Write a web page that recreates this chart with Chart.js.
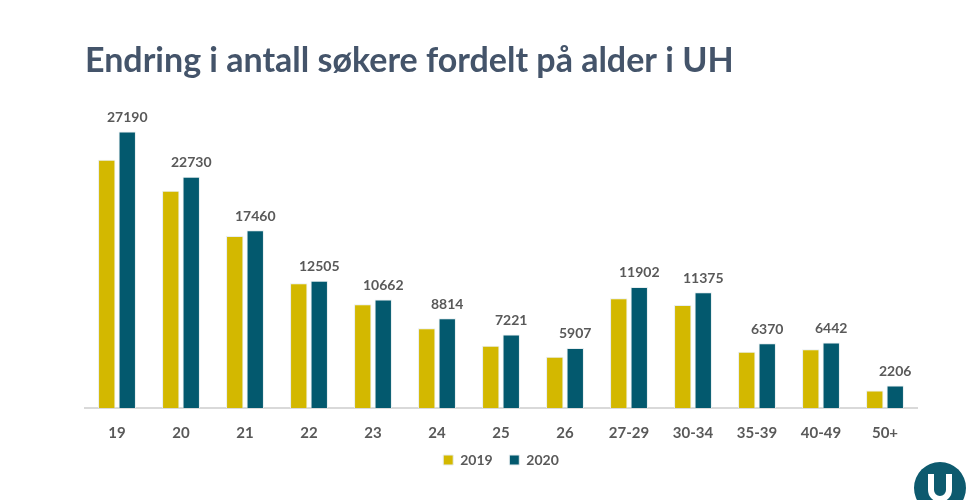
<!DOCTYPE html>
<html>
<head>
<meta charset="utf-8">
<script src="https://cdn.jsdelivr.net/npm/chart.js@4"></script>
<style>
  html, body { margin: 0; padding: 0; background: #fff; }
  #wrap { width: 980px; height: 500px; position: relative; }
</style>
</head>
<body>
<div id="wrap"><canvas id="chart"></canvas></div>
<script>
const ageGroups = ['19', '20', '21', '22', '23', '24', '25', '26', '27-29', '30-34', '35-39', '40-49', '50+'];
const applicants2019 = [24390, 21360, 16900, 12260, 10210, 7840, 6130, 5040, 10780, 10115, 5540, 5765, 1710];
const applicants2020 = [27190, 22730, 17460, 12505, 10662, 8814, 7221, 5907, 11902, 11375, 6370, 6442, 2206];
const seriesNames = ['2019', '2020'];

const textGray = '#595959';
const fontFamily = 'Lato, "Open Sans", sans-serif';

// value labels over the 2020 bars only
const valueLabels = {
    id: 'valueLabels',
    afterDatasetsDraw(chart) {
        const ctx = chart.ctx;
        const meta = chart.getDatasetMeta(1);
        ctx.save();
        ctx.font = 'bold 14px ' + fontFamily;
        ctx.fillStyle = textGray;
        ctx.textAlign = 'center';
        ctx.textBaseline = 'bottom';
        meta.data.forEach((bar, i) => {
            ctx.fillText(applicants2020[i], bar.x, bar.y - 7);
        });
        ctx.restore();
    }
};

// little round logo in the lower right corner
const cornerLogo = {
    id: 'cornerLogo',
    afterDraw(chart) {
        const ctx = chart.ctx;
        const cx = 940, cy = 488, r = 26;
        ctx.save();
        ctx.fillStyle = '#0d5a6e';
        ctx.beginPath();
        ctx.arc(cx, cy, r, 0, Math.PI * 2);
        ctx.fill();
        ctx.strokeStyle = '#fff';
        ctx.lineWidth = 6;
        ctx.beginPath();
        ctx.moveTo(cx - 9, cy - 14);
        ctx.lineTo(cx - 9, cy + 2);
        ctx.arc(cx, cy + 2, 9, Math.PI, 0, true);
        ctx.lineTo(cx + 9, cy - 14);
        ctx.stroke();
        ctx.restore();
    }
};

new Chart(document.getElementById('chart'), {
    type: 'bar',
    data: {
        labels: ageGroups,
        datasets: [{
            label: seriesNames[0],
            data: applicants2019,
            backgroundColor: '#d3b800',
            borderColor: '#e8eef0',
            borderWidth: 1,
            categoryPercentage: 0.64,
            barPercentage: 0.85
        }, {
            label: seriesNames[1],
            data: applicants2020,
            backgroundColor: '#03596e',
            borderColor: '#e8eef0',
            borderWidth: 1,
            categoryPercentage: 0.64,
            barPercentage: 0.85
        }]
    },
    options: {
        responsive: true,
        maintainAspectRatio: false,
        animation: false,
        layout: {
            padding: { left: 85, right: 63, top: 0, bottom: 23 }
        },
        plugins: {
            title: {
                display: true,
                text: 'Endring i antall søkere fordelt på alder i UH',
                align: 'start',
                color: '#44546a',
                font: { family: fontFamily, size: 34, weight: 'bold' },
                padding: { top: 41, bottom: 21 }
            },
            legend: {
                position: 'bottom',
                labels: {
                    color: textGray,
                    boxWidth: 10,
                    boxHeight: 10,
                    padding: 3,
                    font: { family: fontFamily, size: 14, weight: 'bold' },
                    // small vertical padding keeps the legend tight, so widen the gap between items with spaces
                    generateLabels(chart) {
                        const items = Chart.defaults.plugins.legend.labels.generateLabels(chart);
                        items.forEach((item, i) => {
                            if (i < items.length - 1) item.text += '    ';
                        });
                        return items;
                    }
                }
            },
            tooltip: { enabled: false }
        },
        scales: {
            x: {
                grid: { display: false },
                border: { display: true, color: '#d9d9d9', width: 2 },
                ticks: {
                    color: textGray,
                    padding: 8,
                    font: { family: fontFamily, size: 15, weight: 'bold' }
                }
            },
            y: {
                display: false,
                min: 0,
                max: 30000
            }
        }
    },
    plugins: [valueLabels, cornerLogo]
});
</script>
</body>
</html>
